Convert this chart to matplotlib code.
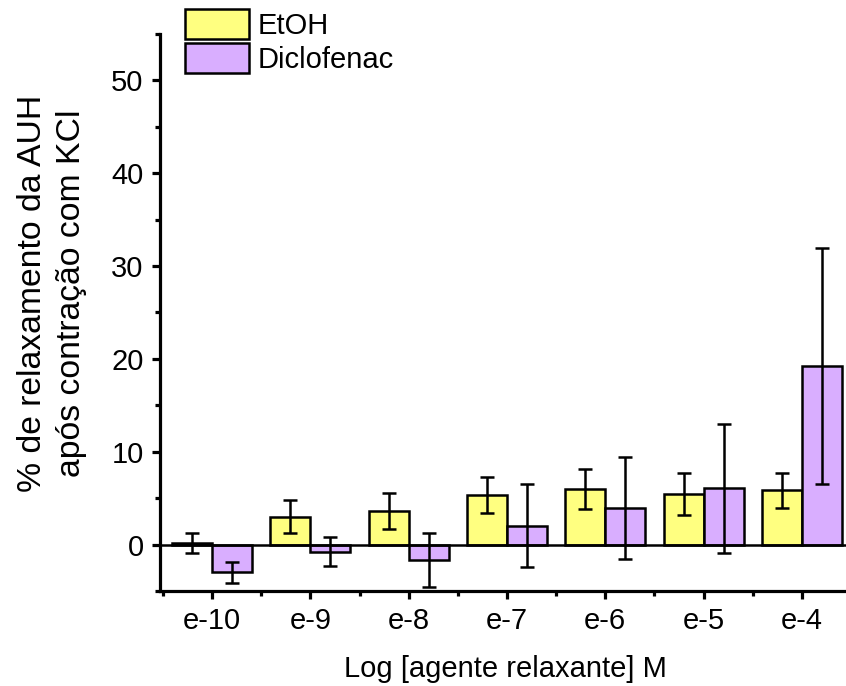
import numpy as np
import matplotlib
matplotlib.use('Agg')
from matplotlib import pyplot as plt
from matplotlib.ticker import MultipleLocator

plt.rcParams['font.family'] = ['Liberation Sans', 'DejaVu Sans']

# data
categories = ['e-10', 'e-9', 'e-8', 'e-7', 'e-6', 'e-5', 'e-4']
etoh_mean = [0.15, 3.0, 3.6, 5.3, 5.95, 5.45, 5.85]
etoh_err = [1.05, 1.75, 1.95, 1.95, 2.15, 2.25, 1.9]
diclo_mean = [-3.0, -0.75, -1.7, 2.05, 3.95, 6.05, 19.2]
diclo_err = [1.1, 1.55, 2.9, 4.5, 5.5, 6.95, 12.7]

yellow = '#FFFF80'
purple = '#D9AEFF'

W, H = 846, 686
fig = plt.figure(figsize=(W / 100, H / 100), dpi=100)
# plot area in pixels: left 160, bottom 591, top 34, 98.3 px per category
ax = fig.add_axes([160 / W, 1 - 591 / H, 7.03 * 98.3 / W, (591 - 34) / H])

x = np.arange(1, len(categories) + 1)
bw = 0.407
lw = 1.8
ax.bar(x - bw / 2, etoh_mean, bw, color=yellow, edgecolor='black',
       linewidth=lw, label='EtOH', zorder=2)
ax.bar(x + bw / 2, diclo_mean, bw, color=purple, edgecolor='black',
       linewidth=lw, label='Diclofenac', zorder=2)
ax.errorbar(x - bw / 2, etoh_mean, yerr=etoh_err, fmt='none', ecolor='black',
            elinewidth=lw, capsize=4.7, capthick=lw, zorder=3)
ax.errorbar(x + bw / 2, diclo_mean, yerr=diclo_err, fmt='none', ecolor='black',
            elinewidth=lw, capsize=4.7, capthick=lw, zorder=3)
ax.axhline(0, color='black', linewidth=lw, zorder=2.5)

ax.set_xlim(0.47, 7.5)
ax.set_ylim(-5, 55)
ax.set_xticks(x)
ax.set_xticklabels(categories)
ax.xaxis.set_minor_locator(MultipleLocator(0.5))
ax.yaxis.set_major_locator(MultipleLocator(10))
ax.yaxis.set_minor_locator(MultipleLocator(5))

for side in ['top', 'right']:
    ax.spines[side].set_visible(False)
for side in ['left', 'bottom']:
    ax.spines[side].set_linewidth(2.3)

ax.tick_params(which='major', direction='out', length=5.8, width=2.3,
               labelsize=21, pad=6)
ax.tick_params(which='minor', direction='out', length=3.6, width=2.3)

ax.set_xlabel('Log [agente relaxante] M', fontsize=21, labelpad=14)
ax.set_ylabel('% de relaxamento da AUH\napós contração com KCl', fontsize=24.3,
              linespacing=1.35)
ax.yaxis.set_label_coords(-0.105, 0.535)

ax.legend(loc='upper left', bbox_to_anchor=(185 / W, 1 - 9 / H),
          bbox_transform=fig.transFigure, frameon=False, fontsize=21,
          handlelength=2.2, handleheight=1.2, labelspacing=0.1,
          handletextpad=0.3, borderpad=0, borderaxespad=0)

fig.savefig('out.png', dpi=100)
